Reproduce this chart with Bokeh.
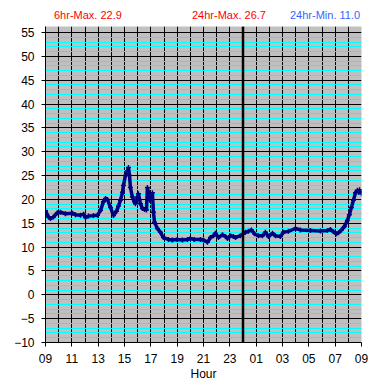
from bokeh.plotting import figure
from bokeh.models import FixedTicker, Span, Range1d, Div
from bokeh.layouts import column
from bokeh.embed import file_html
from bokeh.resources import INLINE

# hours since 09:00
hours = [0.0, 0.23, 0.38, 0.6, 0.9, 1.14, 1.52, 2.05, 2.28, 2.66, 2.9, 3.04, 3.27, 3.64, 3.95,
         4.18, 4.4, 4.56, 4.7, 4.94, 5.16, 5.39, 5.54, 5.69, 5.85, 5.92, 6.07, 6.23, 6.3, 6.38,
         6.45, 6.6, 6.76, 6.83, 6.99, 7.06, 7.14, 7.21, 7.36, 7.52, 7.67, 7.74, 7.82, 7.9, 7.97,
         8.12, 8.2, 8.28, 8.5, 8.73, 8.96, 9.34, 9.64, 10.0, 10.4, 10.78, 11.0, 11.3, 11.77,
         12.0, 12.3, 12.53, 12.76, 12.9, 13.14, 13.44, 13.67, 13.82, 14.05, 14.27, 14.43, 14.8,
         15.19, 15.41, 15.64, 15.87, 16.17, 16.48, 16.7, 16.93, 17.24, 17.46, 17.84, 18.07,
         18.45, 18.98, 19.36, 20.12, 20.88, 21.41, 21.64, 21.87, 22.1, 22.25, 22.48, 22.7,
         22.93, 23.08, 23.23, 23.39, 23.54, 23.69, 23.77, 23.85, 24.0]
temps = [17.6, 16.3, 16.0, 16.3, 17.2, 17.3, 17.0, 17.1, 16.8, 16.7, 16.9, 16.2, 16.5, 16.6, 16.7,
         17.7, 19.5, 20.2, 20.0, 18.3, 16.6, 17.5, 18.6, 19.8, 21.5, 22.9, 25.0, 26.0, 26.7, 25.0,
         22.5, 20.5, 19.5, 19.1, 20.5, 21.2, 20.0, 19.1, 18.1, 17.9, 17.8, 22.5, 21.5, 19.8, 20.5,
         21.4, 17.3, 15.2, 13.9, 13.1, 12.0, 11.6, 11.5, 11.6, 11.5, 11.6, 11.8, 11.6, 11.6,
         11.5, 11.0, 12.0, 12.4, 12.9, 12.0, 12.6, 12.2, 11.8, 12.4, 12.2, 12.0, 12.4,
         13.1, 13.3, 13.6, 12.8, 12.4, 12.4, 13.1, 12.2, 12.9, 12.4, 12.2, 13.1,
         13.3, 13.9, 13.6, 13.5, 13.4, 13.5, 13.7, 13.2, 12.8, 13.0, 13.6, 14.3,
         15.6, 16.8, 18.3, 19.8, 21.4, 21.9, 21.5, 22.0, 21.2]

x_tick_values = list(range(0, 25, 2))
x_tick_labels = ["09", "11", "13", "15", "17", "19", "21", "23", "01", "03", "05", "07", "09"]
y_tick_values = list(range(-10, 56, 5))
header_texts = ["6hr-Max. 22.9", "24hr-Max. 26.7", "24hr-Min. 11.0"]
header_colors = ["#FF0000", "#FF0000", "#3366FF"]
header_left = [54, 192, 290]
midnight = 15

spans = "".join(
    f'<span style="position:absolute;left:{l}px;top:9px;color:{c};white-space:nowrap;">{t}</span>'
    for t, c, l in zip(header_texts, header_colors, header_left))
header = Div(text=f'<div style="position:relative;width:377px;height:26px;'
                  f'font-family:\'Liberation Sans\',Arial,sans-serif;font-size:11px;line-height:13px;">'
                  f'{spans}</div>',
             width=377, height=26, margin=(0, 0, 0, 0))

p = figure(width=377, height=360, output_backend="svg", toolbar_location=None,
           x_range=Range1d(0, 24), y_range=Range1d(-10, 56.25),
           min_border_left=45, min_border_right=16, min_border_top=0, min_border_bottom=44)
p.background_fill_color = "#C0C0C0"
p.border_fill_color = "white"
p.outline_line_color = None

# grids
p.xgrid.ticker = FixedTicker(ticks=list(range(1, 24)))
p.xgrid.grid_line_color = "black"
p.xgrid.grid_line_width = 1
p.ygrid.ticker = FixedTicker(ticks=list(range(-5, 56, 5)),
                             minor_ticks=[v for v in range(-9, 55) if v % 5 != 0])
p.ygrid.grid_line_color = "black"
p.ygrid.minor_grid_line_color = "#00FFFF"
p.ygrid.level = "underlay"

# axes
p.xaxis.ticker = FixedTicker(ticks=x_tick_values)
p.xaxis.major_label_overrides = {v: l for v, l in zip(x_tick_values, x_tick_labels)}
p.yaxis.ticker = FixedTicker(ticks=y_tick_values)
for ax in (p.xaxis, p.yaxis):
    ax.axis_line_color = "black"
    ax.major_tick_line_color = "black"
    ax.major_tick_in = 0
    ax.major_tick_out = 4
    ax.minor_tick_line_color = None
    ax.major_label_text_font = "Liberation Sans"
    ax.major_label_text_font_size = "12px"
    ax.major_label_text_color = "black"
p.xaxis.major_label_standoff = 7
p.yaxis.major_label_standoff = 7
p.xaxis.axis_label = "Hour"
p.xaxis.axis_label_text_font = "Liberation Sans"
p.xaxis.axis_label_text_font_size = "12px"
p.xaxis.axis_label_text_font_style = "normal"
p.xaxis.axis_label_text_color = "black"
p.xaxis.axis_label_standoff = 1

p.add_layout(Span(location=midnight, dimension="height", line_color="black", line_width=2.5))

p.line(hours, temps, line_color="#000080", line_width=3.5)
p.scatter(hours, temps, marker="cross", size=5, line_color="#000080", line_width=1.5)

layout = column(header, p, spacing=0)
open("out.html", "w").write(file_html(layout, INLINE))
